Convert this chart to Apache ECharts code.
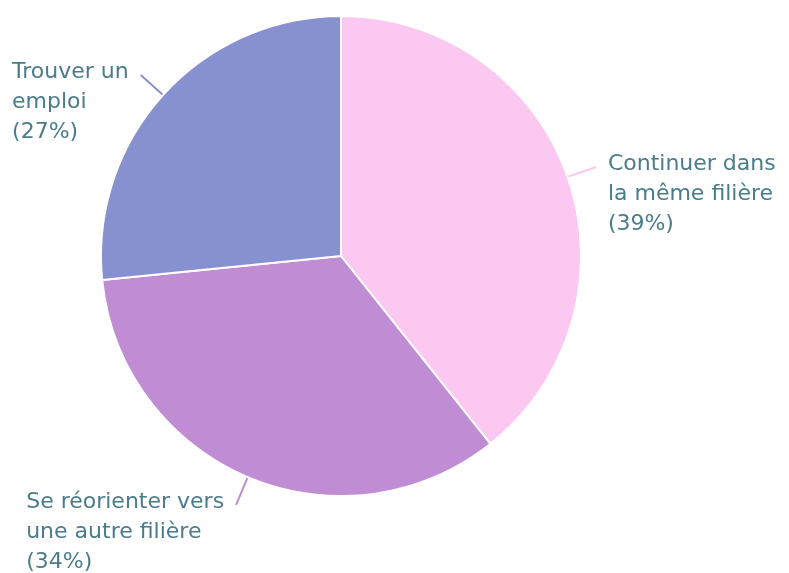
<!DOCTYPE html>
<html>
<head>
<meta charset="utf-8">
<script src="https://cdn.jsdelivr.net/npm/echarts@6/dist/echarts.min.js"></script>
<style>html,body{margin:0;padding:0;background:#fff}#c{width:789px;height:573px}</style>
</head>
<body>
<div id="c"></div>
<script>
const categories = ["Continuer dans\nla même filière", "Se réorienter vers\nune autre filière", "Trouver un\nemploi"];
const values = [39.3, 34.1, 26.6];
const colors = ["#FAC8F0", "#C08DD4", "#8891CF"];

const chart = echarts.init(document.getElementById('c'), null, {renderer: 'canvas'});
chart.setOption({
  animation: false,
  series: [{
    type: 'pie',
    center: [341, 256],
    radius: 240,
    startAngle: 90,
    clockwise: true,
    avoidLabelOverlap: false,
    data: categories.map((n, i) => ({name: n, value: values[i], itemStyle: {color: colors[i]}, labelLine: {lineStyle: {color: colors[i]}}})),
    itemStyle: {borderColor: '#fff', borderWidth: 2},
    label: {
      show: true,
      position: 'outside',
      formatter: p => p.name + '\n(' + Math.round(p.percent) + '%)',
      fontFamily: 'DejaVu Sans',
      fontSize: 22,
      lineHeight: 30,
      color: '#4A7C8B',
      distanceToLabelLine: 12
    },
    labelLine: {show: true, length: 30, length2: 0, smooth: false, lineStyle: {width: 2}},
    emphasis: {disabled: true},
    labelLayout: function (params) {
      const r = params.labelRect;
      return {
        x: r.x,
        y: r.y + r.height / 2 - 18,
        align: 'left',
        verticalAlign: 'top',
        labelLinePoints: params.labelLinePoints
      };
    }
  }]
});
</script>
</body>
</html>
